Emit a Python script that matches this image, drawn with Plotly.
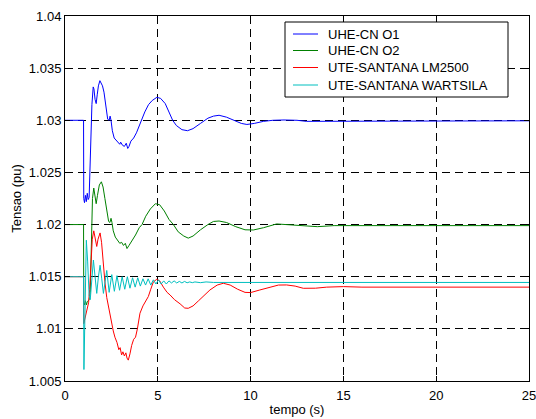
import plotly.graph_objects as go

# ---------------- data ----------------
names = ["UHE-CN O1", "UHE-CN O2", "UTE-SANTANA LM2500", "UTE-SANTANA WARTSILA"]
colors = ["#0000ff", "#008000", "#ff0000", "#00bfbf"]

o1_t = [0, 1.0, 1.01, 1.05, 1.1, 1.15, 1.2, 1.25, 1.3, 1.38, 1.45, 1.52, 1.56, 1.62, 1.68, 1.74,
        1.8, 1.88, 1.95, 2.02, 2.1, 2.2, 2.3, 2.38, 2.43, 2.48, 2.55, 2.65, 2.75, 2.85, 2.95, 3.0,
        3.1, 3.2, 3.3, 3.38, 3.45, 3.55, 3.7, 3.85, 4.0, 4.15, 4.3, 4.5, 4.7, 4.95, 5.15, 5.4,
        5.6, 5.8, 6.0, 6.3, 6.6, 6.9, 7.3, 7.7, 8.0, 8.3, 8.7, 9.1, 9.5, 9.8, 10.2, 10.7, 11.2,
        11.8, 12.5, 13.0, 14.0, 15.0, 16.0, 25.0]
o1_v = [1.030, 1.030, 1.0225, 1.0221, 1.0228, 1.0222, 1.0230, 1.0224, 1.0226, 1.0275, 1.0315,
        1.0332, 1.0330, 1.0320, 1.0316, 1.0325, 1.0333, 1.0338, 1.0336, 1.0333, 1.0327, 1.0313,
        1.0301, 1.0300, 1.0304, 1.0300, 1.0290, 1.0283, 1.0281, 1.0279, 1.0277, 1.0279, 1.0276,
        1.0275, 1.0278, 1.0273, 1.0275, 1.0280, 1.0283, 1.0288, 1.0295, 1.0300, 1.0308, 1.0315,
        1.0319, 1.0322, 1.0321, 1.0316, 1.0308, 1.0300, 1.0295, 1.0291, 1.0290, 1.0292, 1.0297,
        1.0302, 1.0304, 1.03048, 1.0303, 1.0300, 1.0297, 1.0296, 1.0297, 1.0299, 1.0300,
        1.03003, 1.0300, 1.0299, 1.0299, 1.0299, 1.02995, 1.02995]

o2_t = [0, 1.0, 1.01, 1.05, 1.1, 1.15, 1.2, 1.3, 1.36, 1.42, 1.48, 1.55, 1.6, 1.68, 1.75, 1.85,
        1.96, 2.05, 2.15, 2.25, 2.35, 2.42, 2.48, 2.53, 2.6, 2.71, 2.85, 2.95, 3.05, 3.15, 3.25,
        3.34, 3.45, 3.6, 3.8, 4.0, 4.15, 4.35, 4.6, 4.87, 5.1, 5.35, 5.6, 5.84, 6.1, 6.4, 6.64,
        6.9, 7.3, 7.7, 8.0, 8.3, 8.7, 9.2, 9.7, 10.15, 10.7, 11.4, 12.0, 12.8, 13.6, 14.5, 16.0,
        25.0]
o2_v = [1.020, 1.020, 1.0125, 1.0123, 1.0127, 1.0123, 1.0126, 1.0128, 1.0135, 1.0185, 1.0225,
        1.0235, 1.0229, 1.0220, 1.0228, 1.0238, 1.0241, 1.0236, 1.0225, 1.0213, 1.0203, 1.0202,
        1.0206, 1.0202, 1.0194, 1.0188, 1.0184, 1.0182, 1.0183, 1.0180, 1.0182, 1.0177, 1.0180,
        1.0184, 1.0190, 1.0197, 1.0200, 1.0208, 1.0215, 1.0220, 1.0219, 1.0213, 1.0205, 1.0200,
        1.0193, 1.0189, 1.0187, 1.0189, 1.0195, 1.0200, 1.0203, 1.02034, 1.0202, 1.0198, 1.0195,
        1.01948, 1.0197, 1.02006, 1.0200, 1.0199, 1.0198, 1.0199, 1.0199, 1.0199]

lm_t = [0, 1.0, 1.01, 1.05, 1.1, 1.15, 1.2, 1.27, 1.33, 1.4, 1.47, 1.55, 1.62, 1.71, 1.78, 1.89,
        1.97, 2.06, 2.15, 2.25, 2.35, 2.42, 2.5, 2.6, 2.69, 2.8, 2.9, 2.97, 3.05, 3.12, 3.2, 3.28,
        3.34, 3.41, 3.5, 3.59, 3.7, 3.8, 3.9, 4.04, 4.2, 4.35, 4.49, 4.62, 4.76, 4.94, 5.1, 5.3,
        5.5, 5.66, 5.9, 6.2, 6.45, 6.64, 6.9, 7.2, 7.5, 7.81, 8.2, 8.53, 8.9, 9.3, 9.7, 10.0,
        10.5, 11.0, 11.5, 11.94, 12.4, 12.84, 13.5, 14.1, 15.0, 16.0, 25.0]
lm_v = [1.015, 1.015, 1.0105, 1.0108, 1.0113, 1.0118, 1.0120, 1.0125, 1.0138, 1.0168, 1.0186,
        1.0194, 1.0188, 1.0179, 1.0186, 1.0192, 1.0183, 1.0163, 1.0145, 1.0130, 1.0120, 1.0115,
        1.0108, 1.0098, 1.0092, 1.0087, 1.0080, 1.0082, 1.0075, 1.0078, 1.0074, 1.0077, 1.0072,
        1.0070, 1.0076, 1.0084, 1.0090, 1.0092, 1.0100, 1.0115, 1.0122, 1.0127, 1.0131, 1.0138,
        1.0145, 1.01475, 1.0146, 1.0140, 1.0135, 1.01325, 1.0128, 1.0124, 1.0120, 1.01197,
        1.0122, 1.0127, 1.0132, 1.01373, 1.0142, 1.01437, 1.0142, 1.0138, 1.0135, 1.01348,
        1.01373, 1.0140, 1.0142, 1.01421, 1.0141, 1.01389, 1.0139, 1.0140, 1.01405, 1.0140,
        1.0140]

wa_t = [0, 1.0, 1.02, 1.06, 1.10, 1.15, 1.22, 1.30, 1.36, 1.44, 1.53, 1.62, 1.71, 1.80, 1.89,
        1.98, 2.07, 2.16, 2.25, 2.38, 2.52, 2.66, 2.80, 2.94, 3.08, 3.22, 3.36, 3.50, 3.64,
        3.78, 3.92, 4.06, 4.20, 4.34, 4.48, 4.62, 4.76, 4.90, 5.04, 5.18, 5.32, 5.46, 5.60,
        5.74, 5.88, 6.02, 6.16, 6.30, 6.44, 6.58, 6.72, 6.86, 7.0, 7.3, 7.6, 8.0, 8.5, 25.0]
wa_v = [1.015, 1.015, 1.0061, 1.0110, 1.0160, 1.0185, 1.0165, 1.0132, 1.0128, 1.0150, 1.0166,
        1.0150, 1.0134, 1.0150, 1.0161, 1.0148, 1.0134, 1.0145, 1.0156, 1.0135, 1.0152, 1.0136,
        1.0151, 1.0137, 1.0150, 1.0138, 1.0150, 1.0139, 1.0149, 1.0140, 1.0149, 1.0141, 1.0148,
        1.0142, 1.0148, 1.0142, 1.0147, 1.0143, 1.0147, 1.0143, 1.0146, 1.0143, 1.0146, 1.0144,
        1.0146, 1.0144, 1.01455, 1.0144, 1.01455, 1.01442, 1.0145, 1.01443, 1.0145, 1.01443,
        1.0145, 1.01445, 1.01445, 1.01445]

x_ticks = [0, 5, 10, 15, 20, 25]
y_ticks = [1.005, 1.01, 1.015, 1.02, 1.025, 1.03, 1.035, 1.04]
y_ticktext = ["1.005", "1.01", "1.015", "1.02", "1.025", "1.03", "1.035", "1.04"]

series = [(o1_t, o1_v), (o2_t, o2_v), (lm_t, lm_v), (wa_t, wa_v)]

# ---------------- figure ----------------
FONT = "Arial, Liberation Sans, Helvetica, sans-serif"
FS = 13
W, H = 536, 419
# plot area in page pixels: x 65..529, y 16..381
ML, MR, MT, MB = 65, 536 - 529, 16, 419 - 381
PW, PH = W - ML - MR, H - MT - MB

def px_x(px):   # page pixel -> paper fraction
    return (px - ML) / PW

def px_y(py):
    return (H - MB - py) / PH

fig = go.Figure()
for (t, v), name, col in zip(series, names, colors):
    fig.add_trace(go.Scatter(x=t, y=v, mode="lines", name=name, showlegend=False,
                             line=dict(color=col, width=1)))

axis_common = dict(showline=True, linecolor="black", linewidth=1, mirror="ticks",
                   ticks="inside", ticklen=5, tickcolor="black", automargin=False,
                   ticklabeloverflow="allow",
                   showgrid=True, gridcolor="black", gridwidth=1, griddash="8px,5px",
                   zeroline=False, tickfont=dict(family=FONT, size=FS, color="black"))

# legend box drawn as in the reference
shapes = [dict(type="rect", xref="paper", yref="paper",
               x0=px_x(285), x1=px_x(508), y0=px_y(97), y1=px_y(22),
               fillcolor="white", line=dict(color="black", width=1), layer="above")]
annotations = []
row_y = [34, 50.5, 67.5, 85]
for name, col, ry in zip(names, colors, row_y):
    shapes.append(dict(type="line", xref="paper", yref="paper",
                       x0=px_x(293), x1=px_x(318), y0=px_y(ry), y1=px_y(ry),
                       line=dict(color=col, width=1), layer="above"))
    annotations.append(dict(xref="paper", yref="paper", x=px_x(326), y=px_y(ry),
                            xanchor="left", yanchor="middle", showarrow=False,
                            text=name, font=dict(family=FONT, size=FS, color="black")))

fig.update_layout(
    width=W, height=H,
    margin=dict(l=ML, r=MR, t=MT, b=MB),
    paper_bgcolor="white", plot_bgcolor="white",
    font=dict(family=FONT, size=FS, color="black"),
    showlegend=False, hovermode=False,
    shapes=shapes, annotations=annotations,
    xaxis=dict(range=[0, 25], tickvals=x_ticks, ticklabelstandoff=2,
               title=dict(text="tempo (s)", standoff=3,
                          font=dict(family=FONT, size=FS, color="black")),
               **axis_common),
    yaxis=dict(range=[1.005, 1.04], tickvals=y_ticks, ticktext=y_ticktext,
               title=dict(text="Tensao (pu)", standoff=4,
                          font=dict(family=FONT, size=FS, color="black")),
               **axis_common),
)

# remove the browser's default 8px page margin so the figure fills the window exactly
fig.write_html("out.html", config={"displayModeBar": False, "staticPlot": True},
               post_script="document.body.style.margin='0';document.body.style.overflow='hidden';")
